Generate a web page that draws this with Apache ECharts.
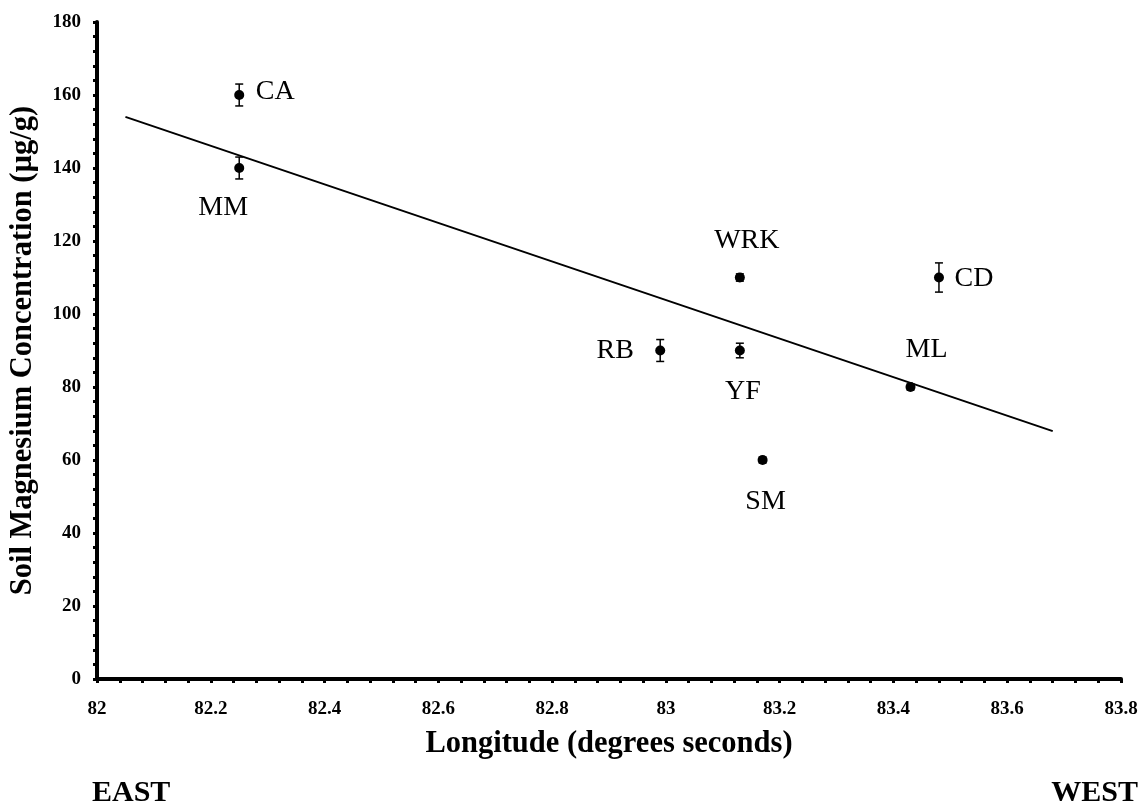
<!DOCTYPE html>
<html>
<head>
<meta charset="utf-8">
<script src="https://cdn.jsdelivr.net/npm/echarts@6/dist/echarts.min.js"></script>
<style>
html,body{margin:0;padding:0;background:#fff;}
#chart{width:1144px;height:807px;}
</style>
</head>
<body>
<div id="chart"></div>
<script>
// ---- data ----
const siteNames   = ['CA', 'MM', 'RB', 'WRK', 'YF', 'SM', 'ML', 'CD'];
const longitudes  = [82.25, 82.25, 82.99, 83.13, 83.13, 83.17, 83.43, 83.48];
const magnesium   = [160, 140, 90, 110, 90, 60, 80, 110];
const errors      = [3, 3, 3, 1, 2, 0.8, 0.8, 4];
const trendX      = [82.05, 83.68];
const trendY      = [154, 67.9];
const xTitle = 'Longitude (degrees seconds)';
const yTitle = 'Soil Magnesium Concentration (µg/g)';
const leftNote = 'EAST';
const rightNote = 'WEST';

// ---- label placement (style, not data) ----
const labelOffsets = {
  CA: [36, -3], MM: [-16, 40], RB: [-45, 0], WRK: [7, -37],
  YF: [3, 41], SM: [3, 42], ML: [16, -37], CD: [35, 1]
};

const serif = '"Liberation Serif", "Times New Roman", serif';

const scatterData = siteNames.map((n, i) => ({
  name: n,
  value: [longitudes[i], magnesium[i]],
  label: { offset: labelOffsets[n] }
}));
const errData = siteNames.map((n, i) => [longitudes[i], magnesium[i] - errors[i], magnesium[i] + errors[i]]);
const trendData = trendX.map((x, i) => [x, trendY[i]]);

const chart = echarts.init(document.getElementById('chart'), null, { renderer: 'canvas' });

const axisCommon = {
  axisLine: { show: true, onZero: false, lineStyle: { color: '#000', width: 4 } },
  axisTick: { show: true, inside: false, length: 4, lineStyle: { color: '#000', width: 3 } },
  minorTick: { show: true, splitNumber: 5, length: 4, lineStyle: { color: '#000', width: 3 } },
  splitLine: { show: false },
  axisLabel: { color: '#000', fontFamily: serif, fontWeight: 'bold', fontSize: 19 },
  nameTextStyle: { color: '#000', fontFamily: serif, fontWeight: 'bold', fontSize: 30.5 }
};

chart.setOption({
  backgroundColor: '#fff',
  animation: false,
  grid: { left: 94, right: 23, top: 22, bottom: 128 },
  xAxis: Object.assign({}, axisCommon, {
    type: 'value', min: 82, max: 83.8, interval: 0.2,
    name: xTitle, nameLocation: 'middle', nameGap: 50,
    axisLabel: Object.assign({}, axisCommon.axisLabel, { margin: 21, formatter: v => String(+v.toFixed(1)) })
  }),
  yAxis: Object.assign({}, axisCommon, {
    type: 'value', min: 0, max: 180, interval: 20,
    name: yTitle, nameLocation: 'middle', nameGap: 58,
    axisLabel: Object.assign({}, axisCommon.axisLabel, { margin: 16 })
  }),
  graphic: [
    { type: 'text', left: 92, top: 778, style: { text: leftNote, fill: '#000', font: 'bold 30px ' + serif } },
    { type: 'text', right: 6, top: 778, style: { text: rightNote, fill: '#000', font: 'bold 30px ' + serif } }
  ],
  series: [
    {
      type: 'line', data: trendData, symbol: 'none', silent: true,
      lineStyle: { color: '#000', width: 2 }, z: 1
    },
    {
      type: 'custom', z: 2,
      data: errData,
      encode: { x: 0, y: [1, 2] },
      renderItem: function (params, api) {
        const x = api.value(0);
        const lo = api.coord([x, api.value(1)]);
        const hi = api.coord([x, api.value(2)]);
        const cap = 4;
        const st = { stroke: '#000', lineWidth: 1.5 };
        return {
          type: 'group',
          children: [
            { type: 'line', shape: { x1: lo[0], y1: lo[1], x2: hi[0], y2: hi[1] }, style: st },
            { type: 'line', shape: { x1: lo[0] - cap, y1: lo[1], x2: lo[0] + cap, y2: lo[1] }, style: st },
            { type: 'line', shape: { x1: hi[0] - cap, y1: hi[1], x2: hi[0] + cap, y2: hi[1] }, style: st }
          ]
        };
      }
    },
    {
      type: 'scatter', z: 3,
      data: scatterData,
      symbol: 'circle', symbolSize: 10,
      itemStyle: { color: '#000', opacity: 1 },
      label: {
        show: true, position: 'inside', formatter: '{b}',
        color: '#000', fontFamily: serif, fontSize: 28,
        align: 'center', verticalAlign: 'middle'
      }
    }
  ]
});
</script>
</body>
</html>
